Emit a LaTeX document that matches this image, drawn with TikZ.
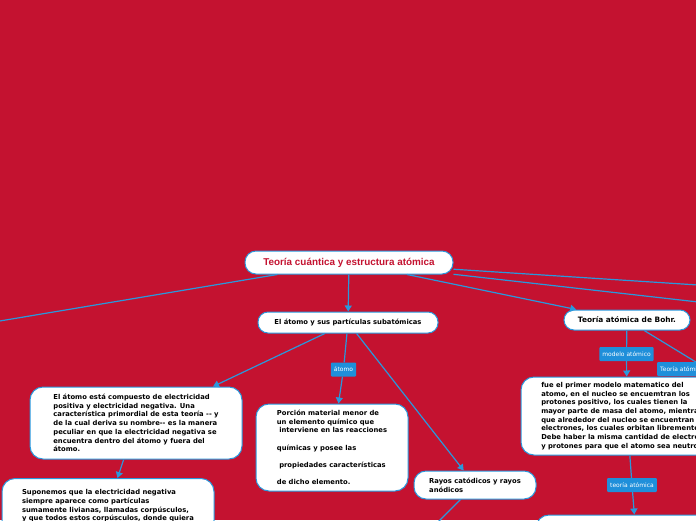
\documentclass[tikz,border=0pt]{standalone}
\usepackage{fontspec}
\setmainfont{DejaVu Sans}
\newfontfamily\rootfont{Liberation Sans}
\usepackage{xcolor}
\definecolor{mapred}{HTML}{C41230}
\definecolor{mapblue}{HTML}{2A98DC}
\definecolor{tagblue}{HTML}{1F8FDA}
\usetikzlibrary{arrows.meta}
\tikzset{
  pill/.style   ={rectangle, rounded corners=10pt, draw=mapblue, line width=1pt, fill=white,
                  align=center, inner sep=0pt, font=\fontsize{6.8}{8.7}\selectfont\bfseries},
  rootbox/.style={pill, rounded corners=11pt, minimum width=208pt, minimum height=23pt,
                  text=mapred, font=\rootfont\fontsize{9.9}{11}\selectfont\bfseries},
  tbox/.style   ={pill, rounded corners=13pt, align=left},
  tag/.style    ={rectangle, rounded corners=1pt, fill=tagblue, text=white, inner xsep=3pt,
                  inner ysep=0pt, minimum height=14pt, font=\fontsize{6}{7}\selectfont},
  link/.style   ={draw=mapblue, line width=1.2pt},
  arr/.style    ={link, -{Triangle[length=6pt,width=7pt]}},
}

\begin{document}
\begin{tikzpicture}[x=1pt,y=-1pt]
  \fill[mapred] (0,0) rectangle (696,520);
  \useasboundingbox (0,0) rectangle (696,520);
  \clip (0,0) rectangle (696,520);

  \node[rootbox] (root) at (349,262.5) {Teoría cuántica y estructura atómica};
  \node[pill, minimum width=180pt, minimum height=21pt] (sub) at (348,322.5) {El átomo y sus partículas subatómicas};
  \node[pill, minimum width=126pt, minimum height=20pt, font=\fontsize{7.4}{8.7}\selectfont\bfseries] (bohr) at (627,320) {Teoría atómica de Bohr.};

  \node[tbox, minimum width=212pt, minimum height=72pt] (lft) at (136,423)
    {El átomo está compuesto de electricidad\\ positiva y electricidad negativa. Una\\
     característica primordial de esta teoría -{}- y\\ de la cual deriva su nombre-{}- es la manera\\
     peculiar en que la electricidad negativa se\\ encuentra dentro del átomo y fuera del\\ átomo.};
  \node[tbox, anchor=north, minimum width=212pt, minimum height=55pt] (blft) at (108,478)
    {Suponemos que la electricidad negativa\\ siempre aparece como partículas\\
     sumamente livianas, llamadas corpúsculos,\\ y que todos estos corpúsculos, donde quiera};
  \node[tbox, minimum width=152pt, minimum height=87pt] (mid) at (332,447.5)
    {Porción material menor de\\ un elemento químico que\\ \ interviene en las reacciones\\[8.7pt]
     químicas y posee las\\[8.7pt] \ propiedades características\\[8.7pt] de dicho elemento.};
  \node[tbox, rounded corners=12pt, minimum width=122pt, minimum height=28pt] (rayos) at (475,485)
    {Rayos catódicos y rayos\\ anódicos};
  \node[tbox, minimum width=212pt, minimum height=78pt] (rgt) at (627,416)
    {fue el primer modelo matematico del\\ atomo, en el nucleo se encuemtran los\\
     protones positivo, los cuales tienen la\\ mayor parte de masa del atomo, mientras\\
     que alrededor del nucleo se encuentran los\\ electrones, los cuales orbitan libremente.\\
     Debe haber la misma cantidad de electrones\\ y protones para que el atomo sea neutro.};
  \node[tbox, minimum width=200pt, minimum height=40pt] (brgt) at (636,535) {};

  \node[tag] (tA) at (343.5,369.5) {átomo};
  \node[tag] (tM) at (626.5,354) {modelo atómico};
  \node[tag] (tR) at (632,485) {teoría atómica};

  \coordinate (offL)  at (-60,331);
  \coordinate (offR1) at (760,289);
  \coordinate (offR2) at (760,309);
  \coordinate (offB)  at (420,540);
  \coordinate (offR3) at (727,381);

  % connectors
  \draw[link] (root) -- (offL);
  \draw[link] (root) -- (offR1);
  \draw[link] (root) -- (offR2);
  \draw[arr]  (root) -- (sub);
  \draw[arr]  (root) -- (bohr);
  \draw[arr]  (sub) -- (lft);
  \draw[link] (sub) -- (tA);
  \draw[arr]  (tA) -- (mid);
  \draw[arr]  (sub) -- (rayos);
  \draw[arr]  (lft) -- (blft);
  \draw[link] (rayos) -- (offB);
  \draw[link] (bohr) -- (tM);
  \draw[arr]  (tM) -- (rgt);
  \draw[link] (bohr) -- (offR3);
  \draw[link] (rgt) -- (tR);
  \draw[arr]  (tR) -- (brgt);

  \node[tag, anchor=west] (tT) at (657,369) {Teoría atómica};
\end{tikzpicture}
\end{document}
